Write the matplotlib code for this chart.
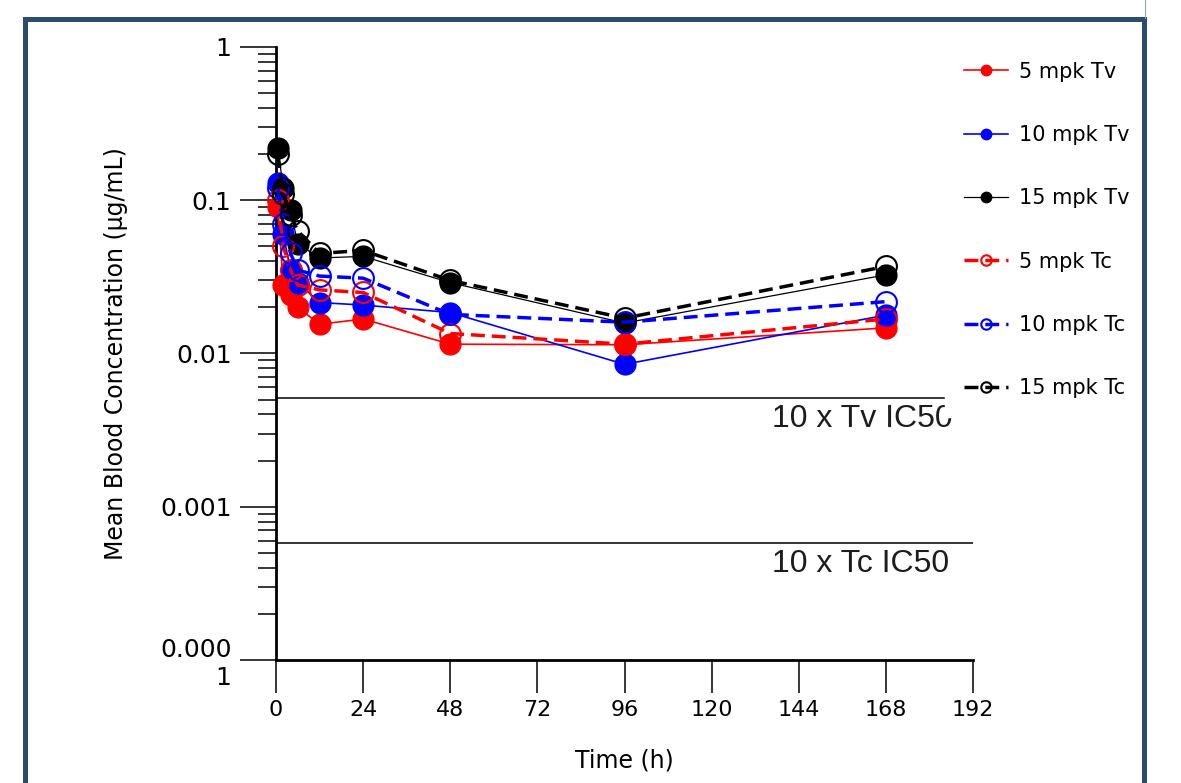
import matplotlib
matplotlib.use("Agg")
from matplotlib import pyplot as plt
from matplotlib.patches import Rectangle
from matplotlib.ticker import LogLocator, NullFormatter

# sampling times (h)
TIMES = [0.5, 2, 4, 6, 12, 24, 48, 96, 168]

# mean blood concentration (ug/mL)
TV_5 = [0.090, 0.028, 0.024, 0.020, 0.0155, 0.0168, 0.0115, 0.0114, 0.0147]
TV_10 = [0.130, 0.060, 0.035, 0.029, 0.0215, 0.0207, 0.0185, 0.0085, 0.0178]
TV_15 = [0.220, 0.120, 0.086, 0.052, 0.042, 0.043, 0.029, 0.0158, 0.0326]
TC_5 = [0.100, 0.050, 0.035, 0.028, 0.026, 0.025, 0.0135, 0.0115, 0.0168]
TC_10 = [0.120, 0.070, 0.045, 0.035, 0.032, 0.031, 0.018, 0.0160, 0.0218]
TC_15 = [0.200, 0.110, 0.080, 0.063, 0.045, 0.047, 0.030, 0.0170, 0.0370]

SERIES_LABELS = ["5 mpk Tv", "10 mpk Tv", "15 mpk Tv",
                 "5 mpk Tc", "10 mpk Tc", "15 mpk Tc"]

TV_IC50_X10 = 0.0051
TC_IC50_X10 = 0.00058

X_TICKS = [0, 24, 48, 72, 96, 120, 144, 168, 192]
Y_TICKS = [1e-4, 1e-3, 1e-2, 1e-1, 1]
Y_TICK_LABELS = ["0.000\n1", "0.001", "0.01", "0.1", "1"]


def draw() -> None:
    fig = plt.figure(figsize=(11.81, 7.83), dpi=100)
    ax = fig.add_axes([0.2337, 0.1571, 0.5902, 0.7829])

    # thresholds
    ax.axhline(TV_IC50_X10, color="black", linewidth=1.1, zorder=1)
    ax.axhline(TC_IC50_X10, color="black", linewidth=1.1, zorder=1)
    ax.annotate("10 x Tv IC50", (136.5, TV_IC50_X10), xytext=(0, -4),
                textcoords="offset points", va="top", ha="left",
                fontsize=23, family="Liberation Sans", color="#1c1c1c")
    ax.annotate("10 x Tc IC50", (136.5, TC_IC50_X10), xytext=(0, -4),
                textcoords="offset points", va="top", ha="left",
                fontsize=23, family="Liberation Sans", color="#1c1c1c")

    colors = ["#ff0000", "#0000ff", "black"]
    tv_lw = [1.2, 1.2, 0.9]

    for values, color, lw, label in zip([TV_5, TV_10, TV_15], colors, tv_lw,
                                        SERIES_LABELS[:3]):
        ax.plot(TIMES, values, color=color, linewidth=lw, marker="o",
                markersize=15, markerfacecolor=color, markeredgecolor=color,
                label=label, clip_on=False, zorder=3)

    for values, color, label in zip([TC_5, TC_10, TC_15], colors,
                                    SERIES_LABELS[3:]):
        ax.plot(TIMES, values, color=color, linewidth=2.5, dashes=(4, 2),
                marker="o", markersize=15, markerfacecolor="none",
                markeredgecolor=color, markeredgewidth=1.5,
                label=label, clip_on=False, zorder=3)

    ax.set_yscale("log")
    ax.set_ylim(1e-4, 1)
    ax.set_xlim(0, 192)
    ax.set_xticks(X_TICKS)
    ax.set_yticks(Y_TICKS, labels=Y_TICK_LABELS)
    ax.yaxis.set_minor_locator(LogLocator(base=10, subs=range(2, 10)))
    ax.yaxis.set_minor_formatter(NullFormatter())

    for side in ["top", "right"]:
        ax.spines[side].set_visible(False)
    for side in ["left", "bottom"]:
        ax.spines[side].set_linewidth(2)

    ax.tick_params(axis="y", which="major", length=26, width=1.1,
                   pad=6, labelsize=18)
    ax.tick_params(axis="y", which="minor", length=13, width=1.1)
    ax.tick_params(axis="x", which="major", length=24, width=1.1,
                   pad=5, labelsize=16)

    ax.set_ylabel("Mean Blood Concentration (\u00b5g/mL)", fontsize=17)
    ax.yaxis.set_label_coords(-0.213, 0.5)
    ax.set_xlabel("Time (h)", fontsize=17)
    ax.xaxis.set_label_coords(0.5, -0.145)

    legend = ax.legend(loc="upper left",
                       bbox_to_anchor=(945 / 1181, 1 - 43 / 783),
                       bbox_transform=fig.transFigure,
                       fontsize=15, markerscale=0.5, handlelength=2.1,
                       handletextpad=0.53, labelspacing=2.08, borderpad=0.9,
                       borderaxespad=0, frameon=True, fancybox=False,
                       framealpha=1, facecolor="white", edgecolor="white")
    legend.set_zorder(5)

    # surrounding slide frame
    fig.patches.append(Rectangle((24.5 / 1181, -0.05),
                                 (1144 - 24.5) / 1181, 1.05 - 18.5 / 783,
                                 transform=fig.transFigure, fill=False,
                                 edgecolor="#2b4b6f", linewidth=3.6))
    fig.add_artist(plt.Line2D([1145 / 1181, 1145 / 1181], [1 - 18 / 783, 1],
                              transform=fig.transFigure,
                              color="#8ea3bd", linewidth=0.8))

    fig.savefig("out.png", dpi=100)
    plt.close(fig)


def main() -> None:
    draw()


if __name__ == "__main__":
    main()
